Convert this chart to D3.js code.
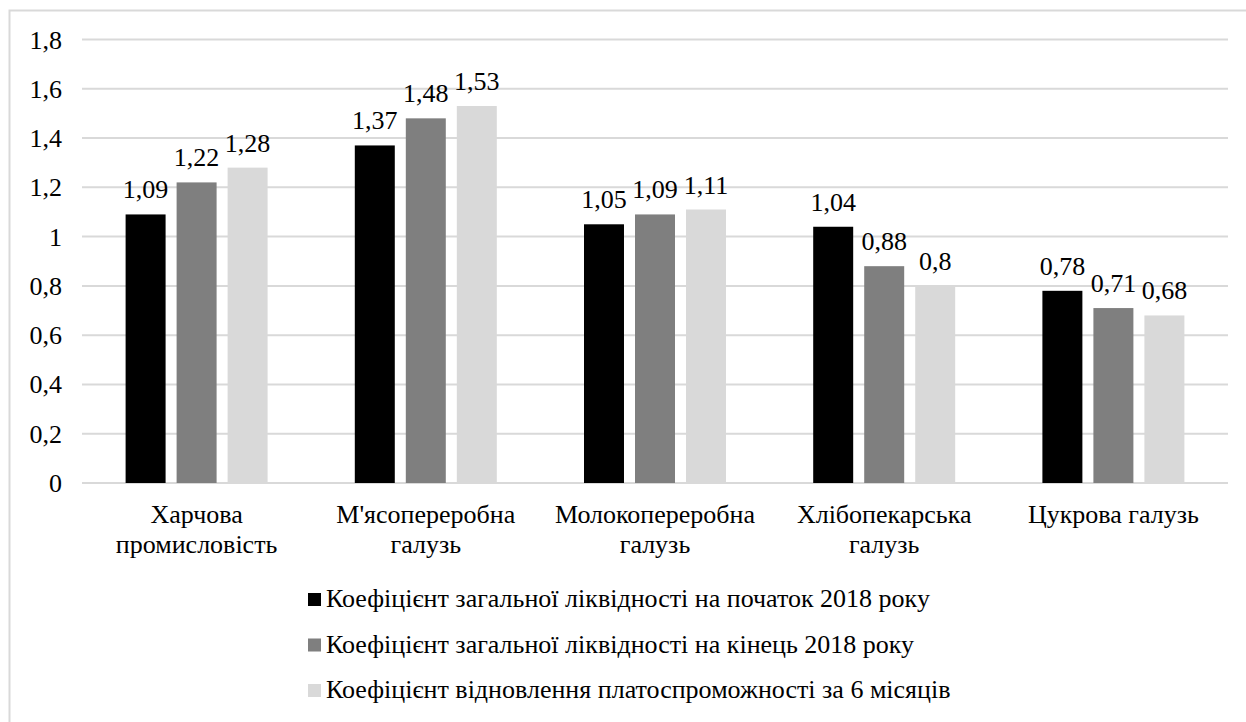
<!DOCTYPE html>
<html>
<head>
<meta charset="utf-8">
<script src="https://cdn.jsdelivr.net/npm/d3@7"></script>
</head>
<body style="margin:0">
<svg id="chart" width="1246" height="722"></svg>
<script>
// categories (two-line labels)
var categories = [
    ["Харчова", "промисловість"],
    ["М'ясопереробна", "галузь"],
    ["Молокопереробна", "галузь"],
    ["Хлібопекарська", "галузь"],
    ["Цукрова галузь"]
];
var seriesNames = [
    "Коефіцієнт загальної ліквідності на початок 2018 року",
    "Коефіцієнт загальної ліквідності на кінець 2018 року",
    "Коефіцієнт відновлення платоспроможності за 6 місяців"
];
var liqStart = [1.09, 1.37, 1.05, 1.04, 0.78];
var liqEnd = [1.22, 1.48, 1.09, 0.88, 0.71];
var recovery = [1.28, 1.53, 1.11, 0.8, 0.68];
var yTicks = [0, 0.2, 0.4, 0.6, 0.8, 1, 1.2, 1.4, 1.6, 1.8];

var colors = ["#000000", "#7f7f7f", "#d9d9d9"];
var allSeries = [liqStart, liqEnd, recovery];
var FONT = "Liberation Serif, Tinos, Times New Roman, DejaVu Serif, serif";
var FS = 26;

var svg = d3.select("#chart");
var plot = { l: 82, r: 1228, t: 39.5, b: 483 };

function setFont(sel) {
    sel.attr("font-family", FONT)
        .attr("font-size", FS)
        .style("font-family", FONT)
        .style("font-size", FS + "px");
}

// outer frame (only top and left edges are inside the picture)
svg.append("path")
    .attr("d", "M9.5,722V10.5H1246")
    .attr("fill", "none")
    .attr("stroke", "#d9d9d9")
    .attr("stroke-width", 2);

var x0 = d3.scaleBand().domain(d3.range(categories.length)).range([plot.l, plot.r]);
var x1 = d3.scaleBand().domain(d3.range(allSeries.length))
    .range([x0.bandwidth() / 2 - 71, x0.bandwidth() / 2 + 71])
    .paddingInner(0.216);
var y = d3.scaleLinear().domain([0, 1.8]).range([plot.b, plot.t]);

var fmt = function (v) { return String(v).replace(".", ","); };

// gridlines
svg.append("g").selectAll("line")
    .data(yTicks)
    .enter().append("line")
    .attr("x1", plot.l).attr("x2", plot.r)
    .attr("y1", d => y(d)).attr("y2", d => y(d))
    .attr("stroke", "#d9d9d9")
    .attr("stroke-width", 2);

// y tick labels
svg.selectAll("text.tick")
    .data(yTicks)
    .enter().append("text")
    .attr("class", "tick")
    .attr("x", 62)
    .attr("y", d => y(d) + 9)
    .attr("text-anchor", "end")
    .call(setFont)
    .text(d => fmt(d));

// bars
var groups = svg.append("g").selectAll("g")
    .data(categories)
    .enter().append("g")
    .attr("transform", (d, i) => "translate(" + x0(i) + ",0)");

groups.selectAll("rect")
    .data((d, i) => allSeries.map((s, k) => ({ k: k, v: s[i] })))
    .enter().append("rect")
    .attr("x", d => x1(d.k))
    .attr("width", x1.bandwidth())
    .attr("y", d => y(d.v))
    .attr("height", d => y(0) - y(d.v))
    .attr("fill", d => colors[d.k]);

// value labels
groups.selectAll("text.val")
    .data((d, i) => allSeries.map((s, k) => ({ k: k, v: s[i] })))
    .enter().append("text")
    .attr("class", "val")
    .attr("x", d => x1(d.k) + x1.bandwidth() / 2)
    .attr("y", d => y(d.v) - 16)
    .attr("text-anchor", "middle")
    .call(setFont)
    .text(d => fmt(d.v));

// category labels
groups.append("text")
    .attr("x", x0.bandwidth() / 2)
    .attr("y", 523)
    .attr("text-anchor", "middle")
    .call(setFont)
    .selectAll("tspan")
    .data(d => d)
    .enter().append("tspan")
    .attr("x", x0.bandwidth() / 2)
    .attr("dy", (d, i) => i === 0 ? 0 : 30)
    .text(d => d);

// legend
var legend = svg.append("g").selectAll("g")
    .data(seriesNames)
    .enter().append("g")
    .attr("transform", (d, i) => "translate(308," + (607 + i * 45.5) + ")");

legend.append("rect")
    .attr("x", 0).attr("y", -14)
    .attr("width", 13).attr("height", 13)
    .attr("fill", (d, i) => colors[i]);

legend.append("text")
    .attr("x", 18)
    .attr("y", 0)
    .call(setFont)
    .text(d => d);
</script>
</body>
</html>
